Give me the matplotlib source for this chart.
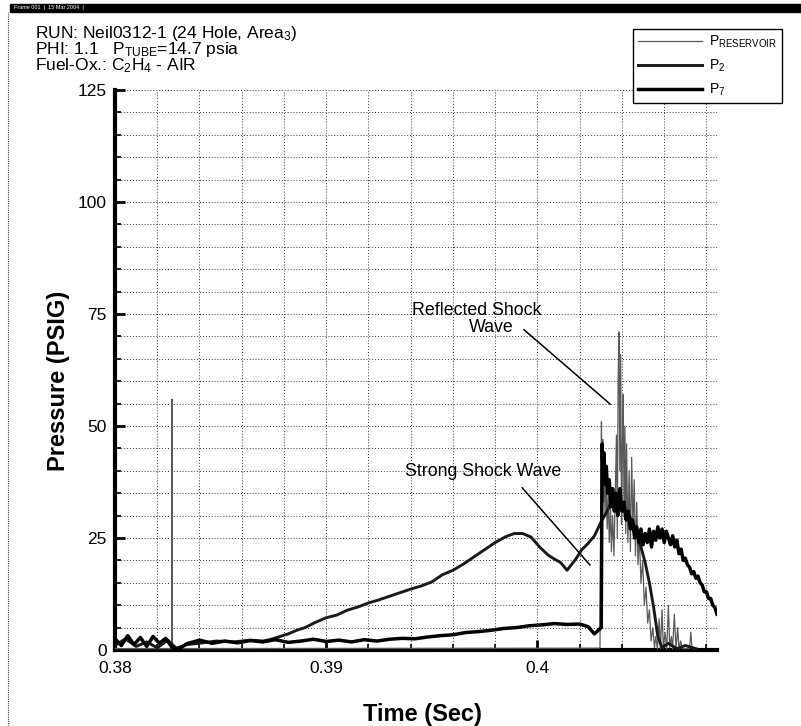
import matplotlib
matplotlib.use("Agg")
import matplotlib.pyplot as plt
from matplotlib.lines import Line2D
from matplotlib.patches import Rectangle
from matplotlib.ticker import MultipleLocator

plt.rcParams["font.family"] = ["Liberation Sans", "DejaVu Sans"]
plt.rcParams["mathtext.fontset"] = "custom"
plt.rcParams["mathtext.rm"] = "Liberation Sans"
plt.rcParams["mathtext.it"] = "Liberation Sans:italic"
plt.rcParams["mathtext.bf"] = "Liberation Sans:bold"

# --- data (time in s, pressure in psig) ---
t_res = [0.3800, 0.3826, 0.38268, 0.38270, 0.38272, 0.4029,
         0.40296, 0.40300, 0.40303, 0.40306, 0.40309, 0.40312, 0.40316, 0.40320, 0.40325, 0.40330,
         0.40335, 0.40340, 0.40346, 0.40350, 0.40356, 0.40362, 0.40368, 0.40374, 0.40378, 0.40382,
         0.40386, 0.40390, 0.40394, 0.40398, 0.40402, 0.40406, 0.40410, 0.40414, 0.40418, 0.40422,
         0.40428, 0.40434, 0.40440, 0.40446, 0.40452, 0.40458, 0.40464, 0.40470, 0.40476, 0.40482,
         0.40490, 0.40498, 0.40506, 0.40514, 0.40522, 0.40530, 0.40538, 0.40546, 0.40554, 0.40560,
         0.40568, 0.40576, 0.40582, 0.40590, 0.40596, 0.40604, 0.40612, 0.40620, 0.40626, 0.40634,
         0.40640, 0.40648, 0.40656, 0.40664, 0.40670, 0.40678, 0.40686, 0.40720, 0.40726, 0.40732, 0.40750]
p_res = [0.3, 0.3, 0.3, 56.0, 0.3, 0.4,
         0.5, 30, 51, 28, 47, 33, 42, 30, 38, 27,
         35, 24, 32, 22, 30, 21, 34, 48, 25, 60,
         71, 40, 66, 28, 45, 57, 30, 50, 26, 46,
         24, 40, 22, 43, 27, 38, 21, 33, 19, 26,
         15, 20, 10, 14, 6, 9, 2, 5, 0.5, 3,
         0.2, 7, 0.3, 9, 0.3, 4, 0.2, 10, 0.5, 3,
         0.2, 8, 0.3, 5, 0.2, 2, 0.3, 0.3, 4, 0.3, 0.3]

t_p2 = [0.3800, 0.3805, 0.3810, 0.3815, 0.3820, 0.3825, 0.3829, 0.3834, 0.3840, 0.3848,
        0.3856, 0.3864, 0.3870, 0.3874, 0.3878, 0.3882, 0.3886, 0.3890, 0.3895, 0.3900,
        0.3905, 0.3910, 0.3915, 0.3920, 0.3925, 0.3930, 0.3935, 0.3940, 0.3945, 0.3950,
        0.3955, 0.3960, 0.3965, 0.3970, 0.3975, 0.3980, 0.3985, 0.3989, 0.3993, 0.3997,
        0.4001, 0.4005, 0.4008, 0.4011, 0.4014, 0.4016, 0.4018, 0.4021, 0.4024, 0.4027,
        0.4030, 0.4033, 0.4035, 0.4037, 0.4039, 0.4041, 0.4043, 0.4045, 0.4047, 0.4049,
        0.4051, 0.4053, 0.4055, 0.4057, 0.4059, 0.4062, 0.4066, 0.4070, 0.4075]
p_p2 = [1.0, 2.5, 0.8, 1.8, 0.5, 2.2, 0.4, 1.2, 1.5, 2.0,
        1.8, 2.2, 2.0, 2.4, 3.0, 3.6, 4.4, 5.0, 6.2, 7.2,
        7.8, 8.9, 9.6, 10.5, 11.2, 12.0, 12.8, 13.6, 14.3, 15.2,
        16.8, 17.8, 19.2, 20.8, 22.4, 24.0, 25.3, 26.0, 26.0, 25.2,
        23.0, 21.2, 20.3, 19.5, 17.8, 19.0, 20.2, 22.4, 23.8, 25.5,
        28.5, 31.0, 33.0, 31.5, 33.5, 31.0, 30.5, 28.5, 26.0, 23.0,
        19.5, 15.0, 9.5, 3.0, 0.5, 1.5, 0.3, 1.0, 0.3]

t_p7 = [0.3800, 0.3803, 0.3806, 0.3809, 0.3812, 0.3815, 0.3818, 0.3821, 0.3824, 0.3827,
        0.3830, 0.3834, 0.3840, 0.3846, 0.3852, 0.3858, 0.3864, 0.3870, 0.3876, 0.3882,
        0.3888, 0.3894, 0.3900, 0.3906, 0.3912, 0.3918, 0.3924, 0.3930, 0.3936, 0.3942,
        0.3948, 0.3954, 0.3960, 0.3966, 0.3972, 0.3978, 0.3984, 0.3990, 0.3996, 0.4002,
        0.4008, 0.4014, 0.4020, 0.4024, 0.4027, 0.4029, 0.40302, 0.40306, 0.4031, 0.40315,
        0.4032, 0.40326, 0.40332, 0.4034, 0.40348, 0.40356, 0.40364, 0.40372, 0.4038, 0.4039,
        0.4040, 0.4041, 0.4042, 0.4043, 0.4044, 0.4045, 0.4046, 0.4047, 0.4048, 0.4049,
        0.4050, 0.4051, 0.4052, 0.4053, 0.4054, 0.4055, 0.4056, 0.4057, 0.4058, 0.4059,
        0.4060, 0.4061, 0.4062, 0.4063, 0.4064, 0.4065, 0.4066, 0.4067, 0.4068, 0.4069,
        0.4070, 0.4071, 0.4072, 0.4073, 0.4074, 0.4075, 0.4076, 0.4077, 0.4078, 0.4079,
        0.4080, 0.4081, 0.4082, 0.4083, 0.4084, 0.4085]
p_p7 = [2.5, 1.0, 3.2, 1.2, 2.8, 0.8, 3.0, 1.5, 2.6, 0.6,
        0.2, 1.4, 2.2, 1.5, 2.0, 1.6, 2.1, 1.8, 2.3, 1.7,
        2.0, 2.4, 1.9, 2.2, 1.8, 2.3, 2.0, 2.4, 2.6, 2.5,
        2.9, 3.2, 3.4, 3.9, 4.1, 4.4, 4.8, 5.0, 5.4, 5.6,
        5.9, 5.7, 5.8, 5.2, 3.6, 4.5, 5.0, 46.0, 40.0, 44.0,
        37.0, 41.0, 35.0, 38.0, 32.0, 36.0, 31.0, 35.0, 30.0, 36.0,
        31.0, 33.0, 29.0, 31.0, 27.0, 29.0, 25.0, 27.5, 24.0, 27.0,
        23.5, 26.0, 24.0, 27.0, 23.0, 26.5, 24.5, 27.5, 25.0, 27.0,
        24.0, 26.5, 25.0, 23.5, 25.5, 23.0, 24.5, 21.5, 22.5, 20.0,
        20.5, 19.0, 18.5, 17.0, 17.5, 16.0, 16.5, 15.0, 14.5, 13.0,
        13.0, 11.5, 11.5, 10.0, 9.5, 8.0]

series_labels = [r"P$_{\mathrm{RESERVOIR}}$", r"P$_{\mathrm{2}}$", r"P$_{\mathrm{7}}$"]
x_ticks = [0.38, 0.39, 0.40]
x_ticklabels = ["0.38", "0.39", "0.4"]
y_ticks = [0, 25, 50, 75, 100, 125]
header = ["RUN: Neil0312-1 (24 Hole, Area$_{\\mathrm{3}}$)",
          "PHI: 1.1   P$_{\\mathrm{TUBE}}$=14.7 psia",
          "Fuel-Ox.: C$_{\\mathrm{2}}$H$_{\\mathrm{4}}$ - AIR"]

W, H = 801, 726
fig = plt.figure(figsize=(W / 100, H / 100), dpi=100)
ax = fig.add_axes([115 / W, 1 - 650 / H, 602 / W, 560 / H])

l_res, = ax.plot(t_res, p_res, color="#5a5a5a", lw=0.9, label=series_labels[0], zorder=3)
l_p2, = ax.plot(t_p2, p_p2, color="#1a1a1a", lw=2.1, label=series_labels[1], zorder=4)
l_p7, = ax.plot(t_p7, p_p7, color="black", lw=2.5, label=series_labels[2], zorder=5)

ax.set_xlim(0.38, 0.4085)
ax.set_ylim(0, 125)
ax.set_xticks(x_ticks)
ax.set_xticklabels(x_ticklabels)
ax.set_yticks(y_ticks)
ax.xaxis.set_minor_locator(MultipleLocator(0.002))
ax.yaxis.set_minor_locator(MultipleLocator(5))
ax.grid(which="both", color="#333333", lw=0.7, ls=(0, (1, 2)))
ax.set_axisbelow(True)
for s in ["top", "right"]:
    ax.spines[s].set_visible(False)
for s in ["left", "bottom"]:
    ax.spines[s].set_linewidth(3)
ax.tick_params(which="major", direction="in", length=7, width=2, labelsize=12.5)
ax.tick_params(axis="x", which="major", pad=8)
ax.tick_params(axis="y", which="major", pad=6)
ax.tick_params(which="minor", direction="in", length=4, width=1.2)

ax.set_xlabel("Time (Sec)", fontsize=17, fontweight="bold")
ax.set_ylabel("Pressure (PSIG)", fontsize=17, fontweight="bold")
ax.xaxis.set_label_coords(0.51, -0.095)
ax.yaxis.set_label_coords(-0.075, 0.48)

# annotations
ax.text(0.3971, 75.7, "Reflected Shock", fontsize=12.8, ha="center", va="center", zorder=6)
ax.text(0.3978, 72.0, "Wave", fontsize=12.8, ha="center", va="center", zorder=6)
ax.plot([0.39936, 0.40344], [71.5, 54.9], color="black", lw=1.1, zorder=6)
ax.text(0.39744, 39.9, "Strong Shock Wave", fontsize=12.8, ha="center", va="center", zorder=6)
ax.plot([0.39928, 0.40248], [36.2, 19.0], color="black", lw=1.1, zorder=6)

# header text block (one text so the tight line spacing is kept)
fig.text(35 / W, 1 - 24 / H, "\n".join(header), fontsize=12.5, ha="left", va="top",
         linespacing=0.78)

# legend box upper right
leg = fig.legend(handles=[l_res, l_p2, l_p7], labels=series_labels, loc="upper left",
                 bbox_to_anchor=(633 / W, 1 - 29 / H), borderaxespad=0, fontsize=10,
                 handlelength=4.6, frameon=True, fancybox=False, framealpha=1,
                 edgecolor="black", borderpad=0.35, labelspacing=0.55, handletextpad=0.5)
leg.get_frame().set_linewidth(1.0)

# scanner frame: black title strip and dotted page border
fig.patches.append(Rectangle((10 / W, 1 - 12 / H), 791 / W, 8 / H, transform=fig.transFigure,
                             color="black", zorder=0))
fig.text(14 / W, 1 - 8 / H, "Frame 001  |  15 Mar 2004  |", color="white", fontsize=4,
         va="center", ha="left")
fig.lines.append(Line2D([8 / W, 8 / W], [0, 1 - 12 / H], transform=fig.transFigure,
                        color="#444444", lw=0.8, ls=(0, (1, 1))))

fig.savefig("out.png", dpi=100)
